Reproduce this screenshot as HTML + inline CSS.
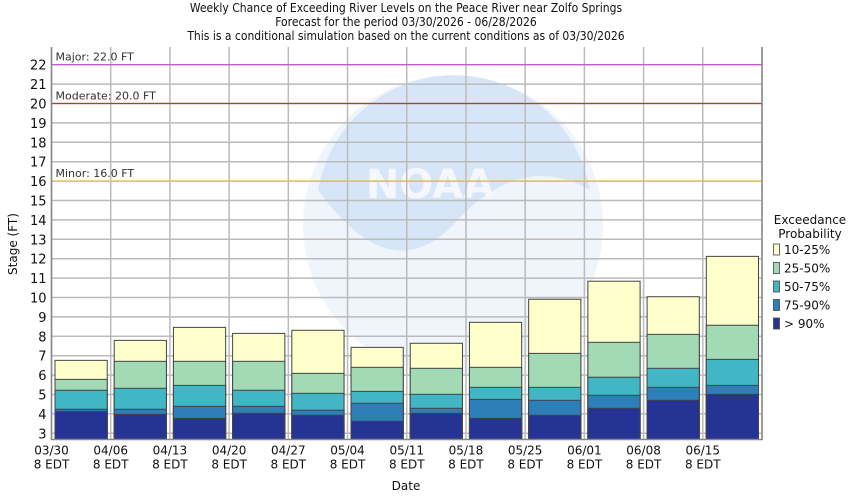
<!DOCTYPE html>
<html><head><meta charset="utf-8"><style>
body{margin:0;background:#fff;}
svg{display:block;font-family:"DejaVu Sans","Liberation Sans",sans-serif;}
.t{font-family:"DejaVu Sans Condensed","DejaVu Sans","Liberation Sans",sans-serif;font-size:12px;fill:#111;}
</style></head><body>
<svg id="chart" width="850" height="500" viewBox="0 0 850 500">
<text class="t" x="406" y="12" text-anchor="middle">Weekly Chance of Exceeding River Levels on the Peace River near Zolfo Springs</text>
<text class="t" x="406" y="26" text-anchor="middle">Forecast for the period 03/30/2026 - 06/28/2026</text>
<text class="t" x="406" y="40" text-anchor="middle">This is a conditional simulation based on the current conditions as of 03/30/2026</text>
<g id="wm">
<circle cx="453" cy="225" r="150" fill="#f0f5fc"/>
<path d="M318,190 A138,138 0 0 1 590,190 Q520,150 453,225 Q390,290 318,190Z" fill="#d6e6f8"/>
<text x="430" y="198" text-anchor="middle" font-size="40" font-weight="bold" fill="#f4f8fd">NOAA</text>
</g>
<g id="grid"></g>
<g id="bars"></g>
<g id="axes"></g>
<g id="legend"></g>
<text x="17" y="244" transform="rotate(-90 17 244)" text-anchor="middle" font-size="12" fill="#111">Stage (FT)</text>
<text x="406" y="490" text-anchor="middle" font-size="12" fill="#111">Date</text>
</svg>
<script>
const categories=["03/30","04/06","04/13","04/20","04/27","05/04","05/11","05/18","05/25","06/01","06/08","06/15"];
const p90=[4.13,3.98,3.77,4.03,3.93,3.62,4.03,3.77,3.93,4.29,4.70,5.01];
const p75=[4.24,4.24,4.39,4.39,4.19,4.55,4.29,4.75,4.70,4.96,5.37,5.47];
const p50=[5.22,5.32,5.47,5.22,5.06,5.16,5.01,5.37,5.37,5.89,6.35,6.81];
const p25=[5.78,6.71,6.71,6.71,6.09,6.40,6.35,6.40,7.12,7.69,8.10,8.57];
const p10=[6.76,7.79,8.46,8.15,8.31,7.43,7.64,8.72,9.91,10.84,10.04,12.12];
const yTicks=[3,4,5,6,7,8,9,10,11,12,13,14,15,16,17,18,19,20,21,22];
const floodLevels=[22,20,16];
const floodLabels=["Major: 22.0 FT","Moderate: 20.0 FT","Minor: 16.0 FT"];
const legendLabels=["10-25%","25-50%","50-75%","75-90%","> 90%"];

const NS="http://www.w3.org/2000/svg";
const L=51.5,R=762,T=47,B=439.5,step=(R-L)/12;
const y=v=>433.3-(v-3)*19.4;
const x=i=>L+i*step;
function mk(tag,attrs,parent){const e=document.createElementNS(NS,tag);for(const k in attrs)e.setAttribute(k,attrs[k]);parent.appendChild(e);return e;}
const grid=document.getElementById('grid'),bars=document.getElementById('bars'),axes=document.getElementById('axes'),leg=document.getElementById('legend');
yTicks.forEach(t=>{
 const g=mk('line',{x1:L,x2:R,y1:y(t),y2:y(t),stroke:'#bbb','stroke-width':1.5},grid);
 
 
 const tl=mk('text',{x:L-5,y:y(t)+5,'text-anchor':'end','font-size':13,fill:'#111'},axes);
 tl.textContent=t;
 
 
});
for(let i=0;i<=12;i++){
 const g=mk('line',{x1:x(i),x2:x(i),y1:T,y2:B,stroke:'#bbb','stroke-width':1.5},grid);
 
 
}
const fcol=['#c848d8','#f02020','#e8c040'];
floodLevels.forEach((v,i)=>{
 const l=mk('line',{x1:L,x2:R,y1:y(v),y2:y(v),stroke:fcol[i],'stroke-width':1.2},grid);
 
 
 const t=mk('text',{x:L+4,y:y(v)-4,'font-size':11,fill:'#333'},grid);
 t.textContent=floodLabels[i];
 
 
});
const cols=['#ffffcc','#a1dab4','#41b6c4','#2c7fb8','#253494'];
const series=[p10,p25,p50,p75,p90];
categories.forEach((c,i)=>{
 const x0=x(i)+3.5,w=step-7;
 series.forEach((s,k)=>{
  const top=y(s[i]);
  const r=mk('rect',{x:x0,y:top,width:w,height:B-top,fill:cols[k],stroke:'#444','stroke-width':1},bars);
  
  
 });
 const t1=mk('text',{x:x(i),y:B+15,'text-anchor':'middle','font-size':12,fill:'#111'},axes);
 t1.textContent=c;
 
 
 const t2=mk('text',{x:x(i),y:B+29,'text-anchor':'middle','font-size':12,fill:'#111'},axes);
 t2.textContent='8 EDT';
 
 
});
const ax=mk('path',{d:`M${L},${T} L${L},${B} L${R},${B} L${R},${T}`,fill:'none',stroke:'#888','stroke-width':1.5},axes);


const lt=mk('text',{x:810,y:224,'text-anchor':'middle','font-size':12,fill:'#111'},leg);
lt.textContent='Exceedance';


const lt2=mk('text',{x:810,y:238,'text-anchor':'middle','font-size':12,fill:'#111'},leg);
lt2.textContent='Probability';


legendLabels.forEach((lb,k)=>{
 const yy=244+k*18.5;
 const r=mk('rect',{x:773.5,y:yy,width:6,height:11,fill:cols[k],stroke:'#444','stroke-width':0.8},leg);
 
 
 const t=mk('text',{x:784,y:yy+10,'font-size':12,fill:'#111'},leg);
 t.textContent=lb;
 
 
});
</script>
</body></html>
